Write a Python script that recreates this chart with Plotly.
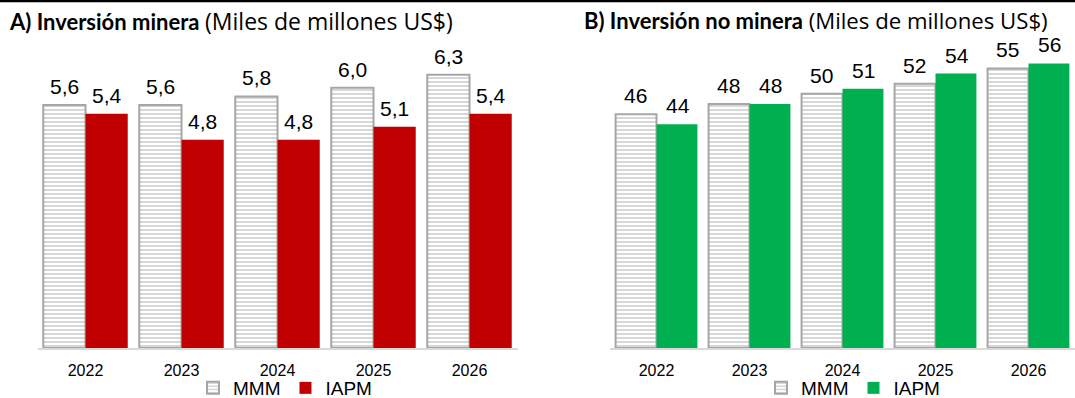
import plotly.graph_objects as go

years = ["2022", "2023", "2024", "2025", "2026"]
mining_mmm = [5.6, 5.6, 5.8, 6.0, 6.3]
mining_iapm = [5.4, 4.8, 4.8, 5.1, 5.4]
nonmining_mmm = [46, 48, 50, 52, 55]
nonmining_iapm = [44, 48, 51, 54, 56]

W, H = 1075, 398
GRAY = "#a6a6a6"
RED = "#c00000"
GREEN = "#00b050"
LABEL_FONT = dict(family="Liberation Sans, Arial", size=21, color="black")

fig = go.Figure()

def mmm_bar(x, y, xa, ya, legend):
    return go.Bar(
        x=x, y=y, name="MMM", xaxis=xa, yaxis=ya, legend=legend,
        marker=dict(color="white",
                    pattern=dict(shape="-", fgcolor=GRAY, bgcolor="white", size=4, solidity=0.45),
                    line=dict(color=GRAY, width=2)),
        hoverinfo="x+y",
    )

def iapm_bar(x, y, xa, ya, legend, color):
    return go.Bar(
        x=x, y=y, name="IAPM", xaxis=xa, yaxis=ya, legend=legend,
        marker=dict(color=color, line=dict(width=0)),
        hoverinfo="x+y",
    )

fig.add_trace(mmm_bar(years, mining_mmm, "x", "y", "legend"))
fig.add_trace(iapm_bar(years, mining_iapm, "x", "y", "legend", RED))
fig.add_trace(mmm_bar(years, nonmining_mmm, "x2", "y2", "legend2"))
fig.add_trace(iapm_bar(years, nonmining_iapm, "x2", "y2", "legend2", GREEN))

# data labels as annotations anchored to data coordinates (x = category index)
half = 21
for xa, ya, s1, s2, fmt in [("x", "y", mining_mmm, mining_iapm, "{:.1f}"),
                            ("x2", "y2", nonmining_mmm, nonmining_iapm, "{:.0f}")]:
    for i, yr in enumerate(years):
        for vals, sh in [(s1, -half), (s2, half)]:
            v = vals[i]
            fig.add_annotation(x=i, y=v, xref=xa, yref=ya, text=fmt.format(v).replace(".", ","),
                               showarrow=False, yanchor="bottom", xanchor="center",
                               xshift=sh, yshift=5, font=LABEL_FONT)

# titles
def sub(size):
    return "<span style='font-family:Open Sans;font-size:%spx'>(Miles de millones US$)</span>" % size

fig.add_annotation(x=7 / W, y=1 - 3 / H, xref="paper", yref="paper", xanchor="left", yanchor="top",
                   showarrow=False,
                   text="<b>A) Inversión minera</b> " + sub(23),
                   font=dict(family="Lato", size=22, color="black"))
fig.add_annotation(x=582 / W, y=1 - 3 / H, xref="paper", yref="paper", xanchor="left", yanchor="top",
                   showarrow=False,
                   text="<b>B) Inversión no minera</b> " + sub(22.2),
                   font=dict(family="Lato", size=22, color="black"))

# top rule
fig.add_shape(type="line", xref="paper", yref="paper", x0=0, x1=1, y0=1 - 1 / H, y1=1 - 1 / H,
              line=dict(color="black", width=2.5))

ydom = [1 - 348 / H, 1 - 40 / H]
xaxis_common = dict(type="category", range=[-0.5, 4.5], showline=True, linecolor="#d9d9d9",
                    linewidth=1.5, ticks="", showgrid=False, ticklabelstandoff=7,
                    automargin=False,
                    tickfont=dict(family="Liberation Sans, Arial", size=16, color="black"),
                    fixedrange=True)
yaxis_common = dict(visible=False, showgrid=False, zeroline=False, fixedrange=True)

LEG_FONT = dict(family="Liberation Sans, Arial", size=19, color="black")
fig.update_layout(
    width=W, height=H,
    margin=dict(l=0, r=0, t=0, b=0, autoexpand=False),
    paper_bgcolor="white", plot_bgcolor="white",
    barmode="group", bargap=0.12, bargroupgap=0,
    xaxis=dict(domain=[37.5 / W, 517.5 / W], anchor="y", **xaxis_common),
    yaxis=dict(domain=ydom, range=[0, 7.1], anchor="x", **yaxis_common),
    xaxis2=dict(domain=[610 / W, 1.0], anchor="y2", **xaxis_common),
    yaxis2=dict(domain=ydom, range=[0, 60.6], anchor="x2", **yaxis_common),
    legend=dict(orientation="h", x=285 / W, y=1 - 388 / H, xanchor="center", yanchor="middle",
                font=LEG_FONT, itemwidth=30, bgcolor="rgba(0,0,0,0)"),
    legend2=dict(orientation="h", x=853 / W, y=1 - 388 / H, xanchor="center", yanchor="middle",
                 font=LEG_FONT, itemwidth=30, bgcolor="rgba(0,0,0,0)"),
    showlegend=True,
)

fig.write_html("out.html")
